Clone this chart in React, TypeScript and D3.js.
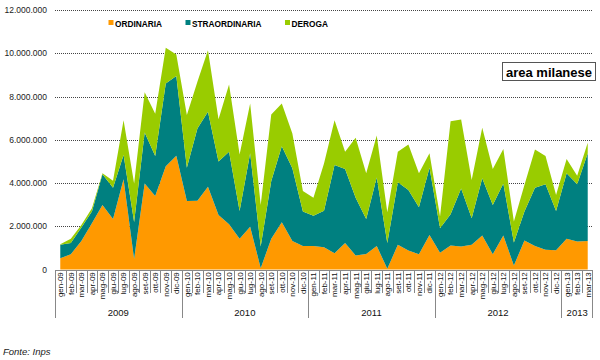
import React from "react";
import * as d3 from "d3";

const months = [
  "gen-09","feb-09","mar-09","apr-09","mag-09","giu-09","lug-09","ago-09","set-09","ott-09","nov-09","dic-09",
  "gen-10","feb-10","mar-10","apr-10","mag-10","giu-10","lug-10","ago-10","set-10","ott-10","nov-10","dic-10",
  "gen-11","feb-11","mar-11","apr-11","mag-11","giu-11","lug-11","ago-11","set-11","ott-11","nov-11","dic-11",
  "gen-12","feb-12","mar-12","apr-12","mag-12","giu-12","lug-12","ago-12","set-12","ott-12","nov-12","dic-12",
  "gen-13","feb-13","mar-13",
];

const years = ["2009", "2010", "2011", "2012", "2013"];

// values in millions of hours
const ordinaria = [
  0.52, 0.71, 1.32, 2.14, 2.98, 2.34, 4.17, 0.48, 3.98, 3.40, 4.78, 5.26,
  3.17, 3.18, 3.83, 2.52, 2.09, 1.42, 1.98, 0.06, 1.42, 2.18, 1.32, 1.09,
  1.09, 1.03, 0.75, 1.22, 0.65, 0.72, 1.09, 0.03, 1.14, 0.88, 0.71, 1.60,
  0.78, 1.11, 1.06, 1.14, 1.57, 0.71, 1.57, 0.18, 1.34, 1.09, 0.91, 0.89,
  1.42, 1.29, 1.32,
];
const straordinaria = [
  0.62, 0.52, 0.62, 0.54, 1.42, 1.44, 1.12, 1.72, 2.36, 1.85, 3.82, 3.69,
  1.53, 3.34, 3.47, 2.48, 3.36, 1.28, 3.39, 1.00, 2.67, 3.52, 3.36, 1.59,
  1.39, 1.69, 4.08, 3.43, 2.67, 1.62, 3.17, 1.19, 2.89, 2.80, 2.17, 3.11,
  1.13, 1.44, 2.69, 1.23, 2.65, 2.27, 2.41, 1.07, 1.34, 2.69, 3.03, 1.82,
  3.03, 2.65, 4.05,
];
const deroga = [
  0.03, 0.19, 0.12, 0.15, 0.05, 0.32, 1.61, 1.78, 1.86, 1.95, 1.66, 0.99,
  2.44, 2.16, 2.84, 1.95, 3.10, 2.62, 2.31, 1.92, 3.08, 1.98, 1.61, 0.95,
  0.84, 2.18, 2.07, 0.80, 2.77, 2.11, 1.94, 1.43, 1.42, 2.10, 1.57, 0.66,
  0.54, 4.31, 3.19, 1.77, 2.33, 1.67, 1.59, 0.97, 1.23, 1.77, 1.31, 0.74,
  0.66, 0.40, 0.49,
];

const yTicks = [0, 2000000, 4000000, 6000000, 8000000, 10000000, 12000000];
const seriesNames = ["ORDINARIA", "STRAORDINARIA", "DEROGA"];
const colors = ["#FF9900", "#008080", "#99CC00"];

const W = 600;
const H = 360;
const FONT = "'Liberation Sans', Arial, sans-serif";

export default function App() {
  const rows = months.map((m, i) => ({
    m,
    ORDINARIA: ordinaria[i] * 1e6,
    STRAORDINARIA: straordinaria[i] * 1e6,
    DEROGA: deroga[i] * 1e6,
  }));
  const stack = d3.stack<any>().keys(seriesNames)(rows);

  const x = d3.scaleBand<string>().domain(months).range([55, 593]).paddingInner(0).paddingOuter(0);
  const cx = (m: string) => (x(m) as number) + x.bandwidth() / 2;
  const y = d3.scaleLinear().domain([0, 12000000]).range([269.5, 10]);

  const area = d3
    .area<any>()
    .x((d: any) => cx(d.data.m))
    .y0((d: any) => y(d[0]))
    .y1((d: any) => y(d[1]));

  const fmt = (v: number) => d3.format(",")(v).replace(/,/g, ".");
  const bw = x.bandwidth();
  const axisY = 270;

  const legendX = [108.5, 185.5, 285];

  return (
    <svg
      width={W}
      height={H}
      style={{ position: "absolute", left: 0, top: 0, background: "#fff" }}
      fontFamily={FONT}
    >
      <rect x={0} y={0} width={W} height={H} fill="#fff" />
      {/* gridlines */}
      {yTicks.slice(1).map((t) => (
        <line
          key={t}
          x1={55}
          x2={593}
          y1={Math.round(y(t)) + 0.5}
          y2={Math.round(y(t)) + 0.5}
          stroke="#444"
          strokeWidth={1}
          strokeDasharray="1,1"
        />
      ))}
      {/* y labels */}
      {yTicks.map((t) => (
        <text
          key={t}
          x={47}
          y={y(t) + 3}
          textAnchor="end"
          fontSize={8.5}
          fill="#222"
        >
          {fmt(t)}
        </text>
      ))}
      {/* areas */}
      {stack.map((s, i) => (
        <path key={s.key} d={area(s as any) as string} fill={colors[i]} />
      ))}
      {/* category axis */}
      <line x1={55} x2={593} y1={axisY + 0.5} y2={axisY + 0.5} stroke="#888" />
      {months.map((m, i) => {
        const isYear = i % 12 === 0;
        const xl = Math.round(x(m) as number) + 0.5;
        return (
          <line
            key={"s" + m}
            x1={xl}
            x2={xl}
            y1={axisY}
            y2={isYear ? 318 : 293}
            stroke="#888"
          />
        );
      })}
      <line x1={592.5} x2={592.5} y1={axisY} y2={318} stroke="#888" />
      {months.map((m) => (
        <text
          key={"t" + m}
          transform={`translate(${cx(m) + 2.9},${axisY + 2.2}) rotate(-90)`}
          textAnchor="end"
          fontSize={8}
          fill="#111"
        >
          {m}
        </text>
      ))}
      {years.map((yr, k) => {
        const first = months[k * 12];
        const last = months[Math.min(k * 12 + 11, months.length - 1)];
        const x0 = x(first) as number;
        const x1 = (x(last) as number) + bw;
        return (
          <text
            key={yr}
            x={(x0 + x1) / 2}
            y={315.5}
            textAnchor="middle"
            fontSize={9.5}
            fill="#111"
          >
            {yr}
          </text>
        );
      })}
      {/* legend */}
      {seriesNames.map((n, i) => (
        <g key={n}>
          <rect x={legendX[i]} y={20} width={5} height={5} fill={colors[i]} />
          <text x={legendX[i] + 6.5} y={27} fontSize={8.3} fontWeight="bold" fill="#000">
            {n}
          </text>
        </g>
      ))}
      {/* title box */}
      <rect x={502.5} y={62.5} width={93} height={18} fill="#fff" stroke="#555" />
      <text x={549} y={76.5} textAnchor="middle" fontSize={13} fontWeight="bold" fill="#000">
        area milanese
      </text>
      <text x={3} y={355} fontSize={9.5} fontStyle="italic" fill="#222">
        Fonte: Inps
      </text>
    </svg>
  );
}
